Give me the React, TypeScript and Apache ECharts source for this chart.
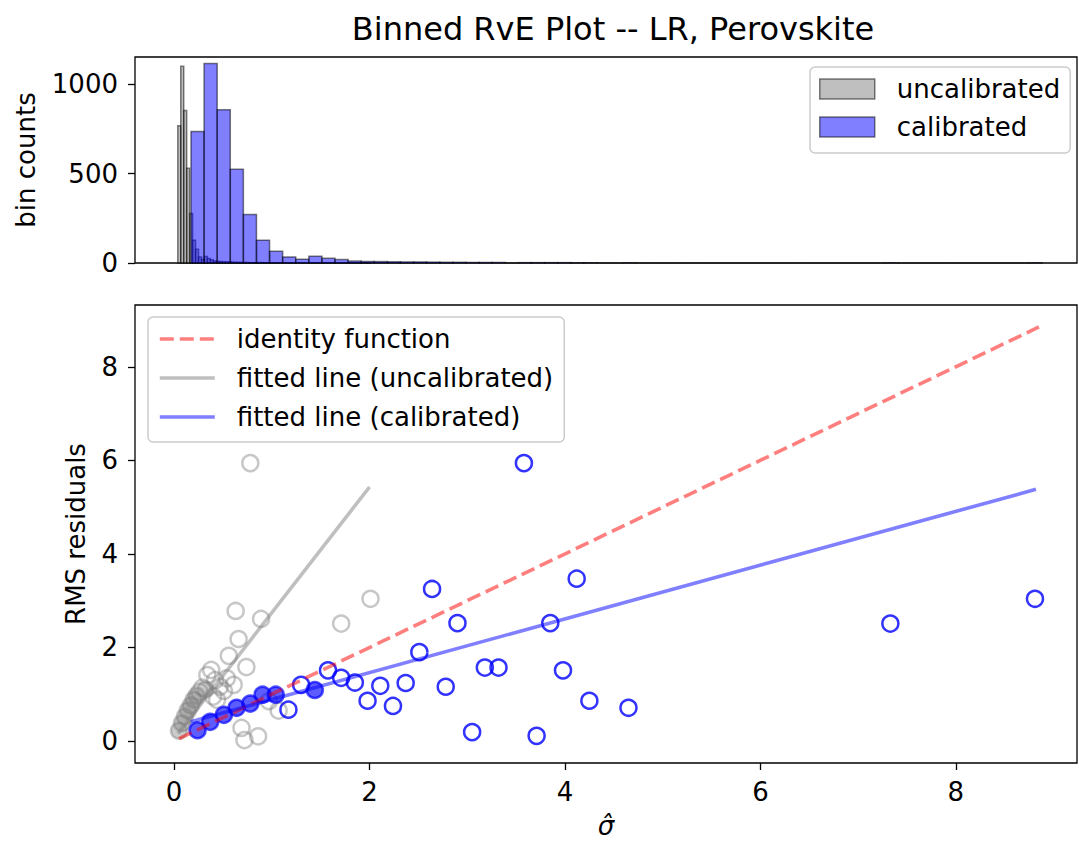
import React, { useEffect, useRef } from "react";
import * as echarts from "echarts";

// ---------- data ----------
const TITLE = "Binned RvE Plot -- LR, Perovskite";

// histogram bins (uniform): start + width, counts per bin
const UNCAL_BIN_START = 0.038;
const UNCAL_BIN_WIDTH = 0.0303;
const UNCAL_COUNTS = [
  768, 1101, 854, 530, 277, 128, 77, 34, 20, 36, 25, 18, 11, 9, 8, 7, 6, 6, 5, 4,
  4, 3, 3, 3, 0, 2, 2, 2, 2, 1, 1, 0, 0, 1, 0, 0, 0, 0, 0, 0,
  0, 0, 0, 0, 0, 0, 0, 0, 0, 0, 0, 0, 0, 1, 0, 0, 0, 0, 0, 0,
  0, 0, 0, 0, 1,
];
const CAL_BIN_START = 0.173;
const CAL_BIN_WIDTH = 0.134;
const CAL_COUNTS = [
  736, 1116, 858, 525, 272, 128, 66, 34, 21, 38, 26, 19, 11, 9, 8, 7, 6, 6, 5, 4,
  4, 3, 3, 3, 0, 2, 2, 2, 2, 1, 1, 0, 0, 1, 0, 0, 0, 0, 0, 0,
  0, 0, 0, 0, 0, 0, 0, 0, 0, 0, 0, 0, 0, 1, 0, 0, 0, 0, 0, 0,
  0, 0, 0, 0, 1,
];

// binned RvE points
const UNCAL_FILLED_X = [0.05, 0.08, 0.11, 0.14, 0.17, 0.2, 0.23, 0.32];
const UNCAL_FILLED_Y = [0.22, 0.38, 0.52, 0.65, 0.76, 0.88, 0.97, 1.1];
const UNCAL_OPEN_X = [
  0.26, 0.29, 0.34, 0.38, 0.4, 0.42, 0.44, 0.47, 0.51, 0.54, 0.56, 0.61, 0.63, 0.66,
  0.69, 0.72, 0.74, 0.78, 0.86, 0.89, 0.97, 1.07, 1.71, 2.01,
];
const UNCAL_OPEN_Y = [
  1.05, 1.14, 1.41, 1.52, 0.95, 1.3, 0.88, 1.16, 1.07, 1.34, 1.82, 1.2, 2.78, 2.18,
  0.28, 0.02, 1.58, 5.94, 0.1, 2.61, 0.85, 0.65, 2.51, 3.04,
];
const CAL_FILLED_X = [0.24, 0.37, 0.51, 0.64, 0.78, 0.905, 1.04, 1.44];
const CAL_FILLED_Y = [0.23, 0.41, 0.56, 0.71, 0.8, 0.99, 0.99, 1.09];
const CAL_OPEN_X = [
  1.17, 1.3, 1.575, 1.71, 1.85, 1.98, 2.11, 2.24, 2.37, 2.51, 2.64, 2.78, 2.9, 3.05,
  3.18, 3.32, 3.58, 3.71, 3.85, 3.98, 4.12, 4.25, 4.65, 7.33, 8.81,
];
const CAL_OPEN_Y = [
  0.67, 1.2, 1.51, 1.35, 1.25, 0.86, 1.18, 0.75, 1.24, 1.9, 3.25, 1.16, 2.52, 0.19,
  1.57, 1.57, 5.94, 0.11, 2.52, 1.51, 3.47, 0.86, 0.71, 2.51, 3.04,
];

// lines
const IDENTITY_X = [0.05, 8.85];
const IDENTITY_Y = [0.05, 8.85];
const FIT_UNCAL_X = [0.04, 2.0];
const FIT_UNCAL_Y = [0.16, 5.43];
const FIT_CAL_X = [0.17, 8.82];
const FIT_CAL_Y = [0.41, 5.38];

const X_TICKS = [0, 2, 4, 6, 8];
const Y_TICKS_TOP = [0, 500, 1000];
const Y_TICKS_BOTTOM = [0, 2, 4, 6, 8];

const FONT = "DejaVu Sans";

const zip = (xs: number[], ys: number[]) => xs.map((x, i) => [x, ys[i]]);
const bins = (start: number, width: number, counts: number[]) =>
  counts.map((c, i) => [start + i * width, start + (i + 1) * width, c]);

export default function App() {
  const ref = useRef<HTMLDivElement>(null);
  useEffect(() => {
    if (!ref.current) return;
    const chart = echarts.init(ref.current, undefined, { renderer: "svg" });

    const histItem = (fill: string) => (params: any, api: any) => {
      const x0 = api.value(0);
      const x1 = api.value(1);
      const c = api.value(2);
      const p0 = api.coord([x0, c]);
      const p1 = api.coord([x1, 0]);
      return {
        type: "rect",
        shape: { x: p0[0], y: p0[1], width: p1[0] - p0[0], height: p1[1] - p0[1] },
        style: { fill, stroke: "rgba(0,0,0,0.5)", lineWidth: 1.5 },
      };
    };

    const tickLabel = {
      fontSize: 26,
      fontFamily: FONT,
      color: "#000",
      formatter: (v: number) => String(v),
    };
    const LW = 3.6;
    const DASH = [14, 6];
    const noSymbol = { opacity: 0 };

    const option: any = {
      animation: false,
      backgroundColor: "#fff",
      title: {
        text: TITLE,
        left: 608,
        top: 8,
        textAlign: "center",
        textStyle: { fontSize: 32, fontWeight: "normal", fontFamily: FONT, color: "#000" },
      },
      legend: [
        {
          orient: "vertical",
          left: 810,
          top: 67,
          padding: [9, 10, 13, 9],
          itemGap: 12,
          itemWidth: 55,
          itemHeight: 20,
          backgroundColor: "rgba(255,255,255,0.8)",
          borderColor: "#cccccc",
          borderWidth: 1.5,
          borderRadius: 5,
          selectedMode: false,
          textStyle: { fontSize: 26, fontFamily: FONT, color: "#000", lineHeight: 26, padding: [0, 0, 0, 17] },
          data: [
            {
              name: "uncalibrated",
              icon: "rect",
              itemStyle: { color: "rgba(128,128,128,0.5)", borderColor: "rgba(0,0,0,0.5)", borderWidth: 1.5 },
            },
            {
              name: "calibrated",
              icon: "rect",
              itemStyle: { color: "rgba(0,0,255,0.5)", borderColor: "rgba(0,0,0,0.5)", borderWidth: 1.5 },
            },
          ],
        },
        {
          orient: "vertical",
          left: 148,
          top: 317,
          padding: [9, 11, 12, 10],
          itemGap: 13,
          itemWidth: 55,
          itemHeight: 20,
          backgroundColor: "rgba(255,255,255,0.8)",
          borderColor: "#cccccc",
          borderWidth: 1.5,
          borderRadius: 5,
          selectedMode: false,
          lineStyle: { width: LW },
          textStyle: { fontSize: 26, fontFamily: FONT, color: "#000", lineHeight: 26, padding: [0, 0, 0, 17] },
          data: [
            {
              name: "identity function",
              itemStyle: noSymbol,
              lineStyle: { width: LW, type: DASH, color: "rgba(255,0,0,0.5)" },
            },
            {
              name: "fitted line (uncalibrated)",
              itemStyle: noSymbol,
              lineStyle: { width: LW, color: "rgba(128,128,128,0.5)" },
            },
            {
              name: "fitted line (calibrated)",
              itemStyle: noSymbol,
              lineStyle: { width: LW, color: "rgba(0,0,255,0.5)" },
            },
          ],
        },
      ],
      grid: [
        {
          left: 135, top: 57, width: 942, height: 206,
          show: true, borderColor: "#000", borderWidth: 1.3, backgroundColor: "transparent",
          containLabel: false, outerBoundsMode: "none",
        },
        {
          left: 135, top: 305, width: 942, height: 458,
          show: true, borderColor: "#000", borderWidth: 1.3, backgroundColor: "transparent",
          containLabel: false, outerBoundsMode: "none",
        },
      ],
      xAxis: [
        {
          type: "value",
          gridIndex: 0,
          min: -0.4,
          max: 9.24,
          axisLine: { show: false },
          axisTick: { show: false },
          axisLabel: { show: false },
          splitLine: { show: false },
        },
        {
          type: "value",
          gridIndex: 1,
          min: -0.4,
          max: 9.24,
          axisLine: { show: false, onZero: false },
          axisTick: { show: true, length: 7, lineStyle: { color: "#000", width: 1.3 }, customValues: X_TICKS },
          axisLabel: { ...tickLabel, margin: 16, customValues: X_TICKS },
          splitLine: { show: false },
          name: "\u03c3\u0302",
          nameLocation: "middle",
          nameGap: 50,
          nameTextStyle: { fontSize: 26, fontFamily: FONT, fontStyle: "italic", color: "#000" },
        },
      ],
      yAxis: [
        {
          type: "value",
          gridIndex: 0,
          min: 0,
          max: 1153,
          axisLine: { show: false, onZero: false },
          axisTick: { show: true, length: 7, lineStyle: { color: "#000", width: 1.3 }, customValues: Y_TICKS_TOP },
          axisLabel: { ...tickLabel, margin: 17, customValues: Y_TICKS_TOP },
          splitLine: { show: false },
          name: "bin counts",
          nameLocation: "middle",
          nameGap: 96,
          nameTextStyle: { fontSize: 26, fontFamily: FONT, color: "#000" },
        },
        {
          type: "value",
          gridIndex: 1,
          min: -0.47,
          max: 9.32,
          axisLine: { show: false, onZero: false },
          axisTick: { show: true, length: 7, lineStyle: { color: "#000", width: 1.3 }, customValues: Y_TICKS_BOTTOM },
          axisLabel: { ...tickLabel, margin: 17, customValues: Y_TICKS_BOTTOM },
          splitLine: { show: false },
          name: "RMS residuals",
          nameLocation: "middle",
          nameGap: 46,
          nameTextStyle: { fontSize: 26, fontFamily: FONT, color: "#000" },
        },
      ],
      series: [
        {
          type: "custom",
          name: "uncalibrated",
          xAxisIndex: 0,
          yAxisIndex: 0,
          z: 2,
          itemStyle: { color: "rgba(128,128,128,0.5)" },
          renderItem: histItem("rgba(128,128,128,0.5)"),
          encode: { x: [0, 1], y: 2 },
          data: bins(UNCAL_BIN_START, UNCAL_BIN_WIDTH, UNCAL_COUNTS),
        },
        {
          type: "custom",
          name: "calibrated",
          xAxisIndex: 0,
          yAxisIndex: 0,
          z: 3,
          itemStyle: { color: "rgba(0,0,255,0.5)" },
          renderItem: histItem("rgba(0,0,255,0.5)"),
          encode: { x: [0, 1], y: 2 },
          data: bins(CAL_BIN_START, CAL_BIN_WIDTH, CAL_COUNTS),
        },
        {
          type: "scatter",
          name: "uncal-points-filled",
          xAxisIndex: 1,
          yAxisIndex: 1,
          z: 2,
          symbol: "circle",
          symbolSize: 16,
          itemStyle: { color: "rgba(128,128,128,0.5)", borderColor: "rgba(128,128,128,0.55)", borderWidth: 2.5 },
          data: zip(UNCAL_FILLED_X, UNCAL_FILLED_Y),
        },
        {
          type: "scatter",
          name: "uncal-points-open",
          xAxisIndex: 1,
          yAxisIndex: 1,
          z: 2,
          symbol: "circle",
          symbolSize: 16,
          itemStyle: { color: "rgba(255,255,255,0)", borderColor: "rgba(128,128,128,0.55)", borderWidth: 2.5 },
          data: zip(UNCAL_OPEN_X, UNCAL_OPEN_Y),
        },
        {
          type: "scatter",
          name: "cal-points-open",
          xAxisIndex: 1,
          yAxisIndex: 1,
          z: 2,
          symbol: "circle",
          symbolSize: 16,
          itemStyle: { color: "rgba(255,255,255,0)", borderColor: "#0000ff", borderWidth: 2.5 },
          data: zip(CAL_OPEN_X, CAL_OPEN_Y),
        },
        {
          type: "scatter",
          name: "cal-points-filled",
          xAxisIndex: 1,
          yAxisIndex: 1,
          z: 2,
          symbol: "circle",
          symbolSize: 16,
          itemStyle: { color: "rgba(0,0,255,0.8)", borderColor: "rgba(0,0,255,0.85)", borderWidth: 2.5 },
          data: zip(CAL_FILLED_X, CAL_FILLED_Y),
        },
        {
          type: "line",
          name: "identity function",
          xAxisIndex: 1,
          yAxisIndex: 1,
          z: 3,
          symbol: "none",
          color: "rgba(255,0,0,0.5)",
          lineStyle: { color: "rgba(255,0,0,0.5)", width: LW, type: DASH },
          data: zip(IDENTITY_X, IDENTITY_Y),
        },
        {
          type: "line",
          name: "fitted line (uncalibrated)",
          xAxisIndex: 1,
          yAxisIndex: 1,
          z: 3,
          symbol: "none",
          color: "rgba(128,128,128,0.5)",
          lineStyle: { color: "rgba(128,128,128,0.5)", width: LW },
          data: zip(FIT_UNCAL_X, FIT_UNCAL_Y),
        },
        {
          type: "line",
          name: "fitted line (calibrated)",
          xAxisIndex: 1,
          yAxisIndex: 1,
          z: 3,
          symbol: "none",
          color: "rgba(0,0,255,0.5)",
          lineStyle: { color: "rgba(0,0,255,0.5)", width: LW },
          data: zip(FIT_CAL_X, FIT_CAL_Y),
        },
      ],
    };
    chart.setOption(option);
    return () => chart.dispose();
  }, []);
  return (
    <div
      ref={ref}
      style={{ position: "absolute", left: 0, top: 0, width: 1079, height: 842 }}
    />
  );
}
